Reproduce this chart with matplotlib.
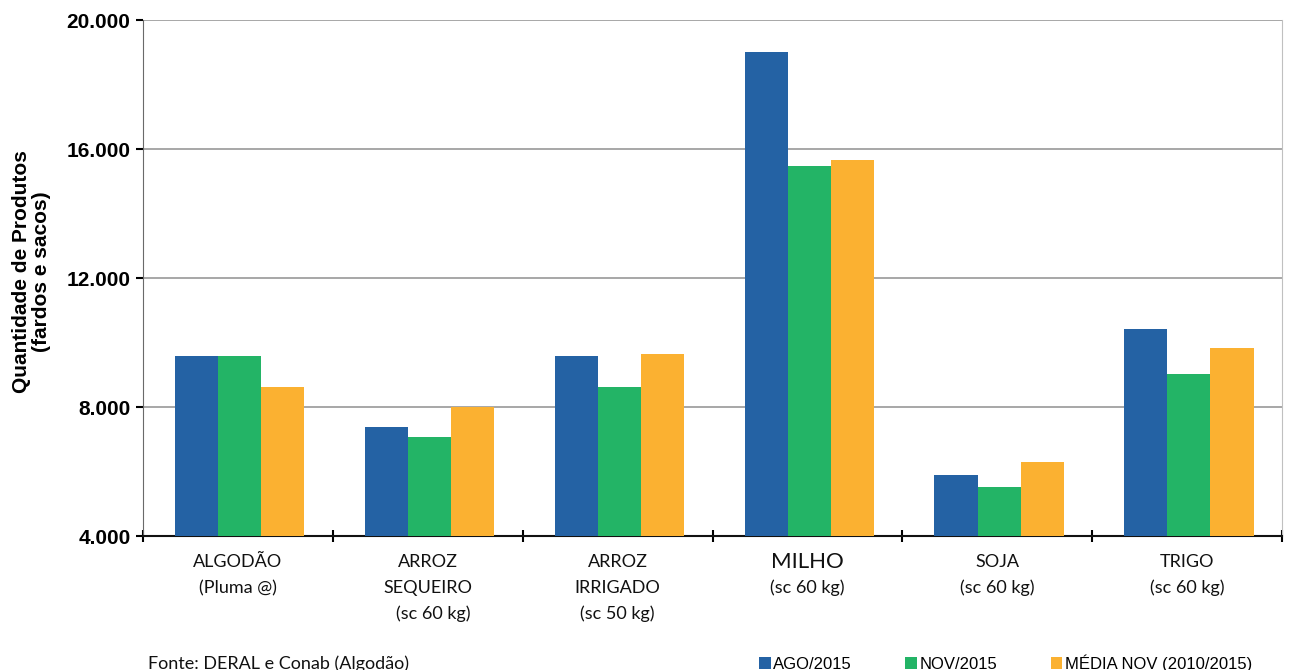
import matplotlib
matplotlib.use("Agg")
import matplotlib.pyplot as plt
import matplotlib.transforms as mtransforms
from matplotlib.patches import Patch
import numpy as np

categories = ["ALGODÃO", "ARROZ", "ARROZ", "MILHO", "SOJA", "TRIGO"]
subtitles = [["(Pluma @)"], ["SEQUEIRO", "(sc 60 kg)"], ["IRRIGADO", "(sc 50 kg)"],
             ["(sc 60 kg)"], ["(sc 60 kg)"], ["(sc 60 kg)"]]
series_names = ["AGO/2015", "NOV/2015", "MÉDIA NOV (2010/2015)"]
ago_2015 = [9580, 7380, 9580, 19010, 5890, 10420]
nov_2015 = [9580, 7070, 8620, 15470, 5520, 9020]
media_nov = [8620, 8000, 9640, 15660, 6300, 9830]
colors = ["#2462A4", "#23B466", "#FBB131"]

fig = plt.figure(figsize=(12.91, 6.70), dpi=100)
ax = fig.add_axes([0.1108, 0.2, 0.8822, 0.77])

x = np.arange(len(categories))
w = 0.227
for i, vals in enumerate([ago_2015, nov_2015, media_nov]):
    ax.bar(x + (i - 1) * w + 0.01, np.array(vals) - 4000, width=w, bottom=4000,
           color=colors[i], zorder=3, linewidth=0)

ax.set_xlim(-0.5, len(categories) - 0.5)
ax.set_ylim(4000, 20000)
yt = [4000, 8000, 12000, 16000, 20000]
ax.set_yticks(yt)
ax.set_yticklabels([f"{v:,}".replace(",", ".") for v in yt],
                   fontsize=15, fontweight="bold", family="Liberation Sans")
ax.yaxis.grid(True, color="#909090", linewidth=1.1, zorder=0)
ax.tick_params(axis="y", direction="out", length=5, width=1.5, pad=4)

ax.set_xticks(np.arange(-0.5, len(categories), 1.0))
ax.set_xticklabels([])
ax.tick_params(axis="x", direction="inout", length=8, width=1.5)

ax.spines["top"].set_visible(False)
ax.spines["right"].set_color("#c0c0c0")
ax.spines["left"].set_color("#6a6a6a")
ax.spines["bottom"].set_linewidth(1.5)
ax.spines["bottom"].set_color("#111111")

trans = mtransforms.blended_transform_factory(ax.transData, fig.transFigure)
for i, (name, subs) in enumerate(zip(categories, subtitles)):
    size = 16 if name == "MILHO" else 13
    ax.text(i, 1 - 562 / 670, name, transform=trans, ha="center", va="center",
            fontsize=size, family="Lato", color="#111111")
    for j, s in enumerate(subs):
        shift = 0.03 if (i == 1 and s.startswith("(")) else 0
        ax.text(i + shift, 1 - (588 + 26 * j) / 670, s, transform=trans,
                ha="center", va="center", fontsize=13, family="Lato",
                color="#111111")

fig.text(0.0245, 0.595, "Quantidade de Produtos\n(fardos e sacos)", rotation=90,
         ha="center", va="center", fontsize=15, fontweight="bold",
         family="Liberation Sans", linespacing=1.05)

fig.text(148 / 1291, 1 - 664 / 670, "Fonte: DERAL e Conab (Algodão)",
         fontsize=13, family="Lato", va="center", color="#111111")

handles = [Patch(facecolor=c, edgecolor="none") for c in colors]
fig.legend(handles, series_names, loc="center left",
           bbox_to_anchor=(744 / 1291, 1 - 663 / 670), ncol=3, frameon=False,
           handlelength=0.7, handleheight=0.7, handletextpad=0.15,
           columnspacing=3.2, prop={"family": "Liberation Sans", "size": 12})

fig.savefig("out.png", dpi=100)
